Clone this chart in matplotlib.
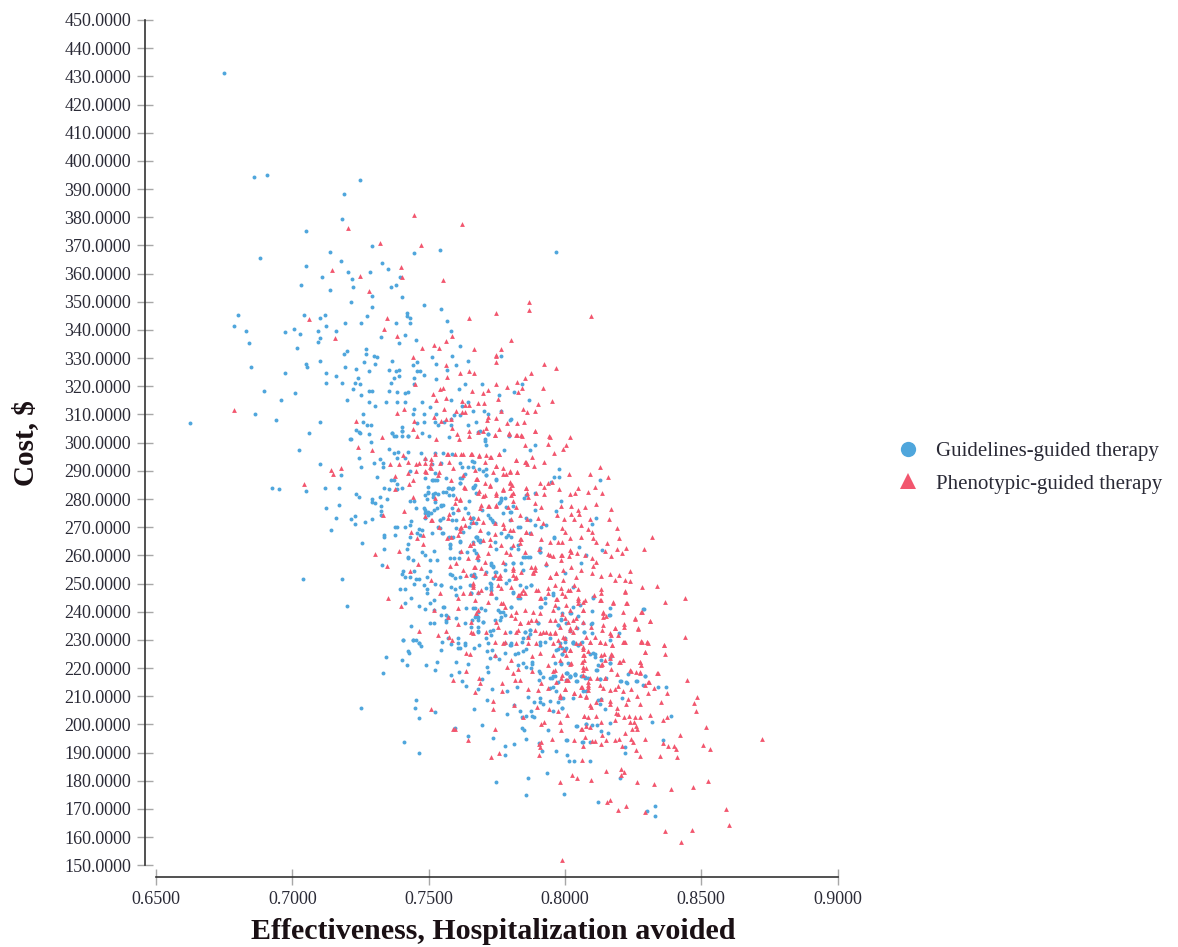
import numpy as np
import matplotlib
matplotlib.use('Agg')
import matplotlib.pyplot as plt
from matplotlib.lines import Line2D

# Datos: (effectiveness, cost)
guidelines_points = [
(.6750,431.3),(.6860,394.3),(.6906,395.1),(.7247,393.3),(.7188,388.3),(.7183,379.3),(.7050,375),(.6882,365.5),(.7137,367.6),(.7177,364.3),
(.7050,362.7),(.7108,358.7),(.7033,355.9),(.7137,354.3),(.7205,360.5),(.7218,358.2),(.7222,355.3),(.7293,369.9),(.7328,363.8),(.7286,360.5),
(.7350,361.5),(.7293,352),(.7362,355.3),(.7379,355.9),(.7396,358.7),(.7402,351.6),(.7447,367.2),(.7540,368.3),(.7968,367.6),
(.7217,349.8),(.7293,348.2),(.7482,348.7),(.7546,347.5),(.7419,345.9),(.7419,344.9),(.7430,344.2),(.7275,344.8),(.6802,345.4),(.7044,345.4),
(.7120,345.4),(.7102,344.2),(.7569,343),(.7430,342.6),(.7379,342.6),(.7252,342.6),(.7194,342.6),(.7124,341.4),(.6785,341.4),(.6831,339.7),
(.7005,340.3),(.6975,339.3),(.7027,338.7),(.7096,339.7),(.7160,339.7),(.7327,337.6),(.7413,338.1),(.7102,337),(.7096,335.8),(.6842,335.2),
(.7391,335.2),(.7454,336.4),(.7016,333.6),(.7269,333.1),(.7269,331.4),(.7200,332.5),(.7188,331.4),(.7298,330.8),(.7310,330.3),(.7511,330.3),
(.7366,329.1),(.7102,329.1),(.7264,328.6),(.7304,328),(.7049,328),(.7055,326.9),(.6848,326.9),(.7194,326.9),(.7442,327.4),(.7459,328.6),
(.7528,328),(.7235,326.3),(.7281,325.3),(.7355,325.8),(.7379,325.3),(.7391,325.8),(.7459,325.3),(.7470,325.3),(.7569,325.8),(.6975,324.7),
(.7124,324.7),(.7160,323.6),(.7241,322.9),(.7391,323.6),(.7372,322.9),(.7447,322.9),(.7482,324.1),(.7528,322.5),(.7124,321.3),(.7183,321.3),
(.7230,321.3),(.7247,320.8),(.7361,321.3),(.7447,320.8),(.7222,319.1),(.6895,318.5),(.7281,318.5),(.7293,318.5),(.7355,318.5),(.7385,318),
(.7413,317.5),(.7425,318),(.7010,317.5),(.7252,316.9),(.6958,315.1),(.7200,315.1),(.7281,314.6),(.7344,314.6),(.7385,314.6),(.7413,314.6),
(.7476,314.6),(.7304,313),(.7506,312.8),(.7447,311.8),(.7258,310.2),(.6865,310.2),(.7442,310.2),(.7482,310.2),(.7528,310.2),(.6941,308),
(.6623,306.8),(.7102,307.3),(.7258,307.3),(.7275,306.2),(.7287,306.2),(.7482,307.3),(.7523,307.3),(.7458,306.8),(.7535,306.2),(.7557,307.3),
(.7402,305.7),(.7402,304),(.7235,304.6),(.7247,303.5),(.7061,303.5),(.7366,303.5),(.7379,302.3),(.7425,302.3),(.7476,303.5),(.7217,301.4),
(.7500,302.3),(.7581,339.7),(.7616,334.2),(.7587,330.8),(.7644,329.1),(.7599,327.4),(.7765,330.8),(.7633,320.8),(.7697,320.8),(.7610,319.1),
(.7841,320.8),(.7812,318),(.7760,316.9),(.7869,315.1),(.7584,315.1),(.7643,314.4),(.7621,313),(.7663,311.3),(.7702,311.3),(.7616,309.7),
(.7592,309.7),(.7581,308.5),(.7765,311.3),(.7719,310.2),(.7674,307.3),(.7644,306.2),(.7581,306.2),(.7804,308.5),(.7797,308),(.7719,302.9),
(.7795,302.3),(.7690,304),(.7575,301.9),(.7707,301.3),
(.7026,297.4),(.7102,292.4),(.6924,284),(.6952,283.4),(.7050,282.9),(.7119,284),(.7171,284),(.7177,288.5),(.7234,281.9),(.7246,280.7),
(.7171,277.8),(.7124,276.7),(.7160,273.4),(.7141,269),(.7217,272.8),(.7229,274),(.7229,271.1),(.7268,271.7),(.7293,272.8),(.7257,264.5),
(.7293,280.1),(.7293,279),(.7304,278.5),(.7321,280.7),(.7326,277.4),(.7327,275.8),(.7327,274.5),(.7349,280.1),(.7338,284),(.7355,283.4),
(.7384,283.4),(.7403,284),(.7384,285.2),(.7361,286.8),(.7372,286.8),(.7310,287.9),(.7246,294.6),(.7251,291.3),(.7298,292.9),(.7321,294.1),
(.7332,292.9),(.7332,291.3),(.7287,300.1),(.7212,301.2),(.7281,303),(.7246,303.7),(.7355,297.9),(.7372,296.2),(.7389,296.8),(.7425,296.8),
(.7384,294.6),(.7413,294.6),(.7366,303.6),(.7372,302.4),(.7402,302.4),(.7402,304.1),(.7425,302.4),(.7377,270.1),(.7384,270.1),(.7413,270.1),
(.7430,270.8),(.7436,272.3),(.7338,267.2),(.7338,266.6),(.7378,267.2),(.7430,266.6),(.7465,269.5),(.7476,269),(.7459,267.8),(.7470,267.2),
(.7425,263.9),(.7338,262.3),(.7419,262.3),(.7425,259.5),(.7425,259),(.7442,258.4),(.7476,261.2),(.7505,258.4),(.7518,261.7),(.7488,260.1),
(.7529,258.4),(.7329,256.7),(.7406,254.5),(.7402,253.3),(.7413,252.2),(.7430,252.2),(.7447,254.5),(.7505,254.5),(.7453,251.6),(.7465,251.6),
(.7493,252.2),(.7447,250),(.7395,248.2),(.7413,248.2),(.7482,249.4),(.7493,248.2),(.7522,250),(.7546,249.4),(.7494,246.5),(.7436,244.9),
(.7413,243.2),(.7465,242.2),(.7505,243.2),(.7518,244.3),(.7488,241),(.7518,240.5),(.7552,241.8),(.7558,241.8),(.7546,238.8),(.7504,236),
(.7518,236),(.7563,236.2),(.7436,234.8),(.7563,237),(.7564,238.8),(.7406,229.9),(.7441,229.9),(.7453,229.9),(.7465,228.8),(.7608,230.6),
(.7039,251.6),(.7183,251.6),(.7200,242.2),(.7471,296.2),(.7488,294.1),(.7523,296.2),(.7552,296.2),(.7512,292.4),(.7546,292.9),(.7586,296),
(.7617,292.9),(.7523,289.1),(.7431,290.1),(.7487,287.3),(.7516,286.8),(.7529,286.8),(.7563,287.3),(.7615,287.3),(.7615,285.6),(.7645,291.5),
(.7661,293.6),(.7666,284.4),(.7499,284.4),(.7499,282.6),(.7575,284),(.7587,283.4),(.7516,281.8),(.7535,281.8),(.7552,282.6),(.7431,279.4),
(.7447,279.4),(.7493,280.1),(.7524,279),(.7575,281.4),(.7650,279.4),(.7675,282),(.7453,276.7),(.7482,276.7),(.7546,277.4),(.7552,277.9),
(.7518,276.1),(.7488,274.9),(.7499,275.4),(.7510,275.2),(.7587,276.7),(.7609,276.1),(.7645,274.9),(.7587,272.6),(.7657,272.8),(.7541,272.6),
(.7535,270),(.7549,267.8),(.7575,266.6),(.7590,266.4),(.7626,268.4),(.7648,270),(.7673,266.6),(.7681,265.5),(.7580,264),(.7580,262.5),
(.7614,264.9),(.7617,261.3),(.7663,264.9),(.7667,261.9),(.7578,259),(.7592,259),(.7641,261.2),(.7612,259),(.7587,253),(.7580,253.4),
(.7614,252.4),(.7597,252.1),(.7657,253),(.7667,253.4),(.7547,249.5),(.7584,248.9),(.7614,248.9),(.7653,249.5),(.7598,248),(.7681,246.5),
(.7602,245.9),(.7636,241.2),(.7681,240),(.7659,237.1),(.7678,238.5),(.7571,238.2),(.7602,237.9),(.7634,235.9),(.7681,234.7),(.7571,230.6),
(.7632,228.8),(.7608,227),
(.7682,303.9),(.7718,303),(.7795,302.6),(.7892,299.2),(.7871,297.4),(.7777,297.4),(.7707,300.7),(.7710,299.2),(.7667,293.3),(.7685,290.5),
(.7700,290.1),(.7712,290.5),(.7712,288.5),(.7749,286.8),(.7663,284.4),(.7979,290.8),(.7960,287.9),(.7977,287.9),(.8128,286.8),(.7950,286.2),
(.7889,282),(.7850,280.2),(.7859,281.4),(.7985,279.4),(.7969,275.8),(.7767,279.7),(.7779,280.2),(.7759,278.7),(.7810,277.5),(.7798,275.5),
(.7773,275.2),(.7889,276.1),(.7696,276.1),(.7663,273.2),(.7657,271.4),(.7675,271.4),(.7724,273.2),(.7737,272),(.7718,274.3),(.7871,272.6),
(.7828,270),(.7892,270.8),(.7914,270),(.7932,270.8),(.8115,273.2),(.8099,271),(.7718,267.8),(.7785,266.6),(.7801,266.6),(.7871,267.8),
(.7960,266.6),(.7960,266),(.7675,266.6),(.7688,265.5),(.7828,263.7),(.7828,262.3),(.7804,262.5),(.7749,262.1),(.7908,262.5),(.8052,263.1),
(.8137,261.9),(.7675,260.7),(.7730,256.6),(.7737,256.2),(.7847,259.5),(.7865,259.5),(.7840,257.4),(.7908,261.3),(.8079,260.1),(.8060,257.2),
(.8000,253.9),(.7932,256.6),(.7779,254.8),(.7743,254.2),(.7712,254.2),(.7669,252.4),(.7737,251.9),(.7810,257.2),(.7847,254.8),(.7724,250.1),
(.7785,250.1),(.7877,249.5),(.7859,248.9),(.7657,246.5),(.7730,247.7),(.7810,246.5),(.7956,245.9),(.7926,243),(.7828,244.8),(.7749,244.8),
(.8103,244.8),(.8030,248.9),(.7914,241.8),(.7804,241.8),(.7761,240),(.7706,240.6),(.7669,241.2),(.7682,238.3),(.7767,238.3),(.7743,237.1),
(.7700,236.5),(.8164,238.8),(.8287,241),(.8097,235.6),(.7987,237.1),(.7902,235.9),(.7871,233.5),(.7798,232.9),(.7724,233.3),(.7682,233.3),
(.7926,229.4),(.7981,228.8),(.8069,232.9),(.8164,229.9),(.8030,228.8),(.7712,230.6),(.7798,228.2),(.7853,232.9),(.7871,232.1),
(.7345,223.8),(.7402,222.7),(.7426,226.1),(.7429,225.5),(.7419,221.1),(.7333,218.3),(.7489,221.1),(.7529,222.1),(.7523,219.4),(.7407,229.8),
(.7444,230),(.7471,227.9),(.7465,228.8),(.7546,226.5),(.7548,229.4),(.7581,228.6),(.7609,228.8),(.7633,228.2),(.7617,227),(.7667,227),
(.7685,228.2),(.7719,228.8),(.7714,226.1),(.7731,226.5),(.7725,223.5),(.7759,223.1),(.7743,224.3),(.7779,225.5),(.7599,222.1),(.7644,221.5),
(.7714,220.3),(.7719,218.6),(.7610,218.6),(.7582,217.7),(.7621,215.4),(.7639,213.8),(.7697,216),(.7680,212.6),(.7731,212.6),(.7788,212),
(.7714,208.8),(.7667,205.4),(.7455,208.8),(.7449,206),(.7523,204.3),(.7466,202.1),(.7253,206),(.7813,206.9),(.7788,203.7),(.7835,204.9),
(.7875,204.9),(.7841,202.6),(.7859,203),(.7878,203),(.7887,202.6),(.7887,207.8),(.7908,209.3),(.7920,207.3),(.7908,207.8),(.7945,208.4),
(.7975,207.8),(.7990,206),(.7956,204.9),(.7969,211.7),(.7982,209.3),(.7994,209.3),(.8030,209.3),(.7863,209.9),(.7825,213.2),(.7945,212.8),
(.7957,213.4),(.7975,215.2),(.7906,215.6),(.7945,216.4),(.7921,216.8),(.7963,217.2),(.7906,218.8),(.7908,218.2),(.8006,218.2),(.8018,217),
(.8036,217.8),(.8043,215.4),(.8085,216.4),(.7859,220.5),(.7874,219.9),(.7881,222.3),(.7880,221.5),(.7829,221.1),(.7847,221.7),(.7817,225),
(.7829,225.3),(.7845,226.2),(.7859,226.7),(.7804,228.2),(.7841,229.4),(.7908,229.4),(.7908,228.2),(.7969,226.5),(.7988,227),(.8031,228.8),
(.8061,229.4),(.7597,198.6),(.7697,199.8),(.7644,195.9),(.7736,195.3),(.7782,192.5),(.7812,193.2),(.7782,189.2),(.7841,198.6),(.7851,198.1),
(.7858,194.9),(.7939,198.1),(.8043,199.5),(.8079,200.2),(.7906,193.3),(.7916,190.4),(.7968,190.4),(.8006,194.5),(.8007,189.2),(.8014,187.1),
(.8032,187.1),(.8067,193.7),(.7408,193.7),(.7466,189.8),(.7748,179.7),(.7863,180.9),(.7858,174.8),(.7933,182.6),(.7996,175.2),
(.7999,229.1),(.8030,229.1),(.8048,228.2),(.8005,227),(.7991,225),(.8091,225),(.8109,225),(.8134,222.9),(.8164,221.7),(.8122,221.1),
(.7985,221.5),(.8115,219.4),(.8005,218.2),(.8018,217.2),(.8036,217.8),(.8060,217.2),(.8073,216.6),(.8042,215.4),(.8130,216),(.8150,216.6),
(.8205,215.4),(.8225,215),(.8232,217.8),(.8262,215.4),(.8295,217.2),(.8341,213.2),(.8371,213.2),(.8067,211.7),(.8079,211.7),(.7987,209.3),
(.8134,208.9),(.8122,208.5),(.8210,209.3),(.8130,207.2),(.8146,205.4),(.7990,206),(.8164,200.4),(.8042,199.5),(.8100,199.8),(.8118,199.8),
(.8076,200.2),(.8318,201),(.8388,203.1),(.8134,197.6),(.8157,197),(.8005,194.3),(.8064,193.6),(.8093,193.7),(.8219,192),(.8221,189.8),
(.8359,194.3),(.8093,187.1),(.8203,180.9),(.8123,172.5),(.8301,169.1),(.8329,170.9),(.8329,167.4),
]

# Segunda lectura de la zona densa
guidelines_center = [
(.7523,286.8),(.7511,286.8),(.7621,291.5),(.7633,288.9),(.7615,285.6),(.7572,284),(.7590,284),(.7499,282.3),(.7486,281.4),(.7517,280.8),
(.7523,282),(.7563,282.6),(.7590,281.4),(.7621,287.3),(.7664,283.8),(.7670,285),(.7664,291.5),(.7712,288.5),(.7747,287),(.7761,279.1),
(.7767,280.2),(.7783,277),(.7804,275.5),(.7547,277.9),(.7529,276.7),(.7486,276.1),(.7499,274.3),(.7486,273.1),(.7554,273.1),(.7541,272.6),
(.7590,274.9),(.7633,276.7),(.7602,272.6),(.7664,273.1),(.7731,272.6),(.7743,271.4),(.7798,272.6),(.7859,273.1),(.7511,267.8),(.7541,269.6),
(.7554,267.8),(.7602,269.6),(.7676,266.6),(.7688,264.9),(.7718,267.8),(.7767,267.8),(.7615,265.2),(.7835,270.2),(.7743,264.9),(.7578,263.7),
(.7792,267.2),
(.7682,258.4),(.7730,257.2),(.7737,256),(.7749,254.2),(.7779,256.9),(.7810,257.2),(.7853,259.5),(.7871,259.3),(.7908,261.3),(.7794,251.2),
(.7730,250),(.7712,248.3),(.7730,248.9),(.7834,249.5),(.7877,249.5),(.7810,247.1),(.7834,244.7),(.7957,246.5),(.7908,241.8),(.7926,244.7),
(.7663,241.2),(.7694,241.2),(.7755,240.6),(.7773,240),(.7804,241.8),(.7669,238.2),(.7682,237),(.7779,238.8),(.7700,236.5),(.7657,234.7),
(.7761,237),(.7902,235.9),(.7853,232.9),(.7871,233.5),(.7865,231.1),(.7682,232.9),(.7737,233.5),(.7730,231.7),(.7804,228.8),(.7779,228.8),
(.7847,230.6),(.7944,230.6),(.7975,235.3),(.8018,239.4),(.8054,242.4),(.7975,241.2),(.7669,252.4),(.7657,246.5),
(.8104,245.1),(.8165,241.2),(.8163,238.8),(.8291,241),(.8098,240.4),(.8031,241.8),(.8024,239.4),(.8049,238.5),(.7988,239.4),(.7985,237.3),
(.8004,235.9),(.7976,235.3),(.8065,236.1),(.8100,235.9),(.8043,234.1),(.8018,233.3),(.8071,232.9),(.8100,232.3),(.8198,232.6),(.8000,230.5),
(.8031,229.4),(.8049,228.2),(.7976,226.6),(.8000,226.4),(.7991,225),(.8104,225.2),(.8110,224),(.8165,223.4),(.8165,221.7),(.7962,221.7),
(.7985,221.7),(.8012,221.9),(.8116,219.3),(.8006,218.1),(.8037,217.5),(.8018,217.2),(.8061,217.2),(.8073,216.7),(.7957,217.2),(.7951,216.4),
(.8128,216),(.8263,215.5),(.8226,214.8),(.8202,215.5),(.8293,217.2),(.8287,214),(.8004,215.8),
]

phenotypic_points = [
(.7447,380.7),(.7203,376.2),(.7321,370.9),(.7472,370.2),(.7145,361.2),(.7249,359),(.7397,362.4),(.7404,358.7),(.7554,357.8),(.7280,353.8),
(.7349,344.2),(.7063,344),(.7335,340.4),(.7156,337.1),(.7383,337.8),(.7562,336.2),(.7475,333.6),(.7520,334.5),(.7537,333.6),(.7441,330.3),
(.7562,327.4),(.7568,323.2),(.7451,320.8),(.7553,319.3),(.7541,318.9),(.7517,317.3),(.7527,315.3),(.7563,315.9),(.7410,312),(.7557,311.9),
(.6787,311.6),(.7383,310.4),(.7519,309.2),(.7232,307.8),(.7446,307.8),(.7547,307.8),(.7562,308.3),(.7443,304.7),(.7329,302.1),(.7458,302.3),
(.7527,301.4),(.7624,377.5),(.7648,344.1),(.7749,345.9),(.7867,349.9),(.7870,347.2),(.8094,344.9),(.7586,337.8),(.7802,336.3),(.7668,333.3),
(.7766,333.1),(.7749,331.2),(.7746,330.8),(.7748,328.7),(.7925,327.9),(.7969,326.4),(.7648,325.3),(.7666,324.8),(.7615,324.7),(.7874,324.6),
(.7853,322.8),(.7825,321.4),(.7746,320.9),(.7788,319.6),(.7920,319.4),(.7842,319.3),(.7829,318.1),(.7718,318.8),(.7658,318.3),(.7698,317.5),
(.7753,315.4),(.7953,314.8),(.7903,313.7),(.7621,314.8),(.7682,313.9),(.7704,313.9),(.7635,313.3),(.7648,313.5),(.7846,311.9),(.7861,310.9),
(.7891,311.3),(.7766,311.3),(.7599,311.3),(.7624,310.9),(.7632,310.9),(.7719,309.2),(.7749,308.6),(.7584,308.3),(.7713,308),(.7850,307.2),
(.7825,306.8),(.7788,306.8),(.7586,305.2),(.7757,304.7),(.7891,304),(.7709,305.2),(.7701,304.2),(.7683,303.8),(.7648,304.3),(.7648,302.3),
(.7605,302.9),(.7744,302.6),(.7795,303.3),(.7823,302.8),(.7841,302.5),(.7944,302.1),(.8019,301.9),(.7613,301.4),
(.7241,298.6),(.7293,297.4),(.7180,290.9),(.7143,290.3),(.7151,288.9),(.7044,285.2),(.7359,292.3),(.7393,292.6),(.7406,295.6),(.7425,293),
(.7452,292.6),(.7466,292.9),(.7486,292.7),(.7510,294.1),(.7509,292.9),(.7569,296),(.7620,296),(.7655,296),(.7574,293),(.7510,290.9),
(.7455,289.8),(.7425,289.4),(.7488,289.8),(.7538,289.5),(.7378,288.2),(.7582,286.8),(.7627,288.5),(.7679,287),(.7376,283.4),(.7427,285.2),
(.7444,286.8),(.7630,284.2),(.7444,280.6),(.7524,280.2),(.7602,280.2),(.7614,279.7),(.7685,283),(.7410,275.6),(.7488,274),(.7510,272.6),
(.7331,274.5),(.7437,268.4),(.7459,266.1),(.7480,264),(.7538,270.1),(.7575,274.7),(.7608,276.3),(.7618,270.2),(.7614,268.7),(.7651,273.5),
(.7681,273.2),(.7584,266.6),(.7651,263.7),(.7620,261.7),(.7678,259.5),(.7304,260.4),(.7393,261.4),(.7349,256.1),(.7461,256.9),(.7431,254.5),
(.7602,257.2),(.7645,259),(.7580,256.2),(.7626,254.8),(.7667,256),(.7509,251.2),(.7541,246.5),(.7639,253),(.7663,250.1),(.7626,246.5),
(.7651,246.5),(.7608,244.8),(.7351,245),(.7400,242.2),(.7520,240.6),(.7571,238.2),(.7608,241.2),(.7681,240.6),(.7609,235.6),(.7657,232.9),
(.7465,233),(.7535,231.6),(.7563,233),(.7575,230.9),(.7587,230),
(.7943,302.4),(.7891,304.1),(.7840,302.6),(.7822,302.8),(.7795,303.1),(.7745,302.6),(.7939,299.5),(.8003,299.2),(.7855,299.2),(.7993,297.6),
(.7960,296.2),(.7757,296),(.7710,295.6),(.7685,295.6),(.7660,296),(.7729,294.8),(.7707,293.3),(.7822,293.9),(.7881,294.8),(.7853,293.3),
(.7861,292.4),(.7924,293),(.7887,291.7),(.8128,291.3),(.7749,291.8),(.7773,290.9),(.7826,289.7),(.7800,290.1),(.7783,288.9),(.7738,289.7),
(.8015,288.8),(.8093,288.9),(.8159,287.7),(.7675,287),(.7708,285.6),(.7727,284.6),(.7798,286.2),(.7807,285),(.7859,284),(.7910,285.6),
(.7922,284.2),(.7938,285.6),(.7954,286.2),(.7977,283.6),(.8048,283.9),(.8111,284.2),(.8086,282.5),(.8137,282.1),(.8036,282.3),(.8020,281.7),
(.7773,283.2),(.7810,282),(.7746,281.4),(.7700,281.1),(.7861,282),(.7893,282.3),(.7922,281.8),(.7810,279.4),(.7891,278.7),(.7987,277.5),
(.8021,277.5),(.8073,277.3),(.8115,278.1),(.8168,276.5),(.8048,276.1),(.7914,277),(.7822,277),(.7749,277.5),(.7722,277.5),(.7694,277.9),
(.7792,277),(.8021,274.6),(.8052,274.6),(.7997,273),(.8034,272.9),(.8091,273),(.8161,272.9),(.7971,274.3),(.7861,272.8),(.7834,274.3),
(.7804,272.8),(.7773,271),(.7743,271.4),(.7901,273.2),(.7920,271.6),(.8060,270.8),(.8085,269.2),(.8192,269.8),(.7991,269.6),(.8000,268.4),
(.8058,266.6),(.8197,266.3),(.8318,266.4),(.8099,268.4),(.8103,266.3),(.8115,264.9),(.8018,266),(.7991,264.9),(.7975,264.9),(.7944,264.9),
(.7914,265.7),(.7877,268),(.7859,268.4),(.7840,265.7),(.7834,264.3),(.7810,269),(.7777,269.6),(.7743,267.6),(.7688,269),(.7700,265.5),
(.7663,264.3),(.7724,263.7),(.7767,263.7),(.7785,261.3),(.7810,263.7),(.7905,262.1),(.7938,260.5),(.7956,259.8),(.7991,260.1),(.8018,261.9),
(.8044,260.7),(.8073,260.1),(.8101,259),(.8115,257.8),(.8154,264.3),(.8146,261.7),(.8170,259.8),(.8192,262.3),(.8209,260.7),(.8225,262.5),
(.8290,262.4),(.8014,259.8),(.7987,258.4),(.7932,257.2),(.7889,256),(.7883,254.2),(.7810,254.8),(.7820,252.4),(.7773,257.8),(.7706,257.8),
(.7669,256),(.7743,253),(.7761,251.9),(.7694,255.4),(.8024,255.8),(.7969,253.6),(.7944,252.4),(.8103,256.2),(.8131,252.8),(.8099,253.9),
(.8060,254.8),(.8042,252.4),(.7993,251.3),(.8164,253.3),(.8183,251.3),(.8197,252.9),(.8222,251.3),(.8240,251),(.8238,254.5),(.8284,248.9),
(.8339,249.3),(.8439,244.8),(.8366,243.5),(.8219,247.5),(.8225,243.2),(.8176,243.2),(.8131,247.9),(.8128,244.2),(.8106,245.9),(.8073,244.2),
(.8048,247.9),(.8032,249.5),(.8012,247.7),(.8000,245.4),(.7972,244.4),(.7938,246.5),(.7895,247.7),(.7840,246.5),(.7832,245.9),(.7804,248.9),
(.7755,249.5),(.7730,246.5),(.7694,247.7),(.7663,248.9),(.7773,243),(.7914,244.8),(.7718,243.6),(.8048,243),(.8067,240.6),(.8018,240.6),
(.7991,239.2),(.7956,240.6),(.7908,239.4),(.7877,237.1),(.7834,236.1),(.7804,238.8),(.7779,241.8),(.7749,236.5),(.7675,239.7),(.7657,236.5),
(.8140,240),(.8152,238.5),(.8213,240),(.8280,240),(.8311,236.7),(.8256,237.4),(.8268,233.9),(.8216,235.6),(.8216,234.5),(.8183,234.1),
(.8195,231.7),(.8136,233.5),(.8097,234.7),(.8067,236.5),(.8042,234.7),(.8012,236.5),(.7981,234.7),(.7944,232.3),(.7920,232.9),(.7889,233.5),
(.7865,231.2),(.7822,232.9),(.7779,229.4),(.7743,229.4),(.8030,232.9),(.7993,231.2),(.8079,231.2),(.8109,231.2),(.8170,231.7),(.8280,229.7),
(.8302,229.1),(.8216,229.4),(.8439,231.2),(.8363,228.1),(.8146,228.8),(.8054,228.8),(.7956,228.8),(.7895,228.8),
(.7639,225.3),(.7652,225),(.7639,218.8),(.7590,215.6),(.7686,216.6),(.7688,214.6),(.7670,211.4),(.7736,208.2),(.7737,205.4),(.7507,205.5),
(.7597,198.4),(.7588,198.3),(.7743,198.3),(.7643,194.3),(.7730,188.5),(.7759,189.8),(.7814,206.8),(.7770,214.6),(.7771,211.9),(.7817,215.8),
(.7837,215.6),(.7786,220.5),(.7810,218.4),(.7804,222.9),(.7829,219.6),(.7743,224.7),(.7774,228.8),(.7878,224.3),(.7880,219.1),(.7908,225.3),
(.7939,221.1),(.7957,218.8),(.7982,222.9),(.8018,221.5),(.7865,212.5),(.7900,212.3),(.7914,214.6),(.7939,212.8),(.8006,215.8),(.7999,212.5),
(.7982,210.5),(.8034,211.1),(.8061,213.4),(.8085,212.3),(.8079,209.9),(.7896,206.3),(.7942,205.4),(.7973,204.6),(.8008,203.4),(.8071,203.1),
(.7847,202.6),(.7924,200.7),(.7914,200.1),(.7982,200.8),(.7985,198.1),(.8063,198.3),(.8079,199.5),(.8073,195.5),(.7911,193.9),(.7952,194.9),
(.8033,194.3),(.7906,193.1),(.7908,191.9),(.8068,192.4),(.7906,189.2),(.8063,187.2),(.7982,179.4),(.8027,181.9),(.8043,181.1),(.7990,152),
(.8173,228.3),(.8213,229.4),(.8280,229.4),(.8301,229.1),(.8363,228.2),(.8368,225),(.8294,225.6),(.8274,222.3),(.8280,221.1),(.8213,222.9),
(.8197,222.1),(.8170,225),(.8167,223.5),(.8144,225),(.8146,222.9),(.8128,229.1),(.8093,229.4),(.8067,226.7),(.8069,224.7),(.8069,222.9),
(.8067,220.5),(.8085,225.9),(.8018,226.5),(.7996,226.5),(.8005,224.7),(.8021,221.7),(.8136,221.5),(.8170,219.6),(.8192,217.8),(.8241,218.8),
(.8262,218.5),(.8274,218.4),(.8339,218.2),(.8447,215.6),(.8118,216.4),(.8085,215.2),(.8067,217.6),(.8005,215.6),(.7987,216.4),(.8146,216.4),
(.8128,214),(.8085,213.4),(.8058,213.4),(.7999,212.5),(.8140,212.8),(.8183,212.5),(.8164,212.3),(.8195,213.7),(.8213,212),(.8241,212.5),
(.8293,214),(.8309,215.2),(.8327,212.8),(.8305,211.3),(.8375,211.1),(.8486,209.7),(.8474,207.5),(.8482,204.9),(.8351,207.8),(.8277,207.3),
(.8266,210.1),(.8232,208.9),(.8225,207.2),(.8164,208.4),(.8164,207.3),(.8134,208.9),(.8115,208.1),(.8091,206.9),(.8097,206.1),(.8034,211.1),
(.8054,210.5),(.8079,210.1),(.7983,209.9),(.8192,205.7),(.8189,204.2),(.8195,203.7),(.8217,202.8),(.8235,203),(.8258,202.8),(.8277,202.7),
(.8311,203.5),(.8375,202.8),(.8360,201.6),(.8238,200.8),(.8255,201),(.8183,201.6),(.8131,201),(.8113,203),(.8085,202.8),(.8069,203.1),
(.8091,199),(.8060,198.4),(.8260,199.5),(.8246,198.3),(.8265,198.3),(.8222,196.9),(.8516,199),(.8421,196.4),(.8294,195),(.8724,194.7),
(.8506,192.6),(.8532,191.2),(.8400,192.4),(.8406,191.4),(.8377,192.4),(.8359,193.3),(.8274,188.8),(.8261,191),(.8250,193.8),(.8244,194.7),
(.8208,192.4),(.8199,194.7),(.8183,194.5),(.8152,194.5),(.8137,196.2),(.8134,192.9),(.8111,194),(.8101,194),(.8349,188.8),(.8411,188.4),
(.8150,183.5),(.8205,184.3),(.8216,183.2),(.8207,182.1),(.8095,180.1),(.8263,179.5),(.8326,178.9),(.8388,177.2),(.8469,177.7),(.8524,179.8),
(.8164,173.3),(.8156,172.5),(.8196,169.8),(.8225,170.9),(.8295,168.8),(.8592,170.1),(.8601,164.3),(.8367,162.1),(.8467,162.6),(.8427,158.2),
]

phenotypic_center = [
(.7486,294.4),(.7523,296),(.7572,296),(.7596,296),(.7627,296),(.7657,296),(.7686,295.3),(.7725,294.8),(.7759,296),(.7822,293.9),
(.7859,293.3),(.7505,291.5),(.7541,292.7),(.7590,290.9),(.7670,290.3),(.7749,291.7),(.7798,289.7),(.7825,289.7),(.7774,288.9),(.7676,287),
(.7633,283.8),(.7725,285),(.7682,282),(.7706,281.4),(.7749,282),(.7774,283.4),(.7798,285.6),(.7798,283.8),(.7810,282),(.7859,283.8),
(.7865,280.8),(.7596,278.5),(.7615,279.9),(.7688,276.7),(.7719,277.5),(.7749,277.9),(.7804,281.4),(.7511,272.6),(.7572,273.1),(.7627,273.1),
(.7700,272),(.7615,269.6),(.7633,270.8),(.7664,272),(.7798,269),(.7835,265.7),(.7725,265.7),(.7651,263.7),(.7609,267.2),(.7480,267.2),
(.7566,266),(.7859,268.4),(.7492,289.7),(.7535,288.5),
(.7682,260.1),(.7718,260.7),(.7798,260.5),(.7853,261.3),(.7944,260.1),(.7987,260.1),(.8024,261.3),(.7663,253),(.7706,253.6),(.7761,253),
(.7755,251.8),(.7810,255.4),(.7810,253),(.7816,251.8),(.7877,256),(.7889,254.8),(.7883,253.6),(.7840,254.2),(.7944,252.4),(.7969,253.6),
(.7993,254.8),(.7663,249.5),(.7682,247.1),(.7730,247.1),(.7767,248.3),(.7847,247.7),(.7853,246.5),(.7828,245.9),(.7908,244.7),(.7902,247.7),
(.7938,248.3),(.7963,249.5),(.7987,248.3),(.8018,247.7),(.8048,244.7),(.7669,244.2),(.7767,243),(.7822,240),(.7853,240.6),(.7883,240),
(.7963,242.4),(.8005,242.4),(.7816,237.6),(.7834,235.9),(.7865,236.5),(.7895,237),(.7944,237),(.7999,237.6),(.8042,237.6),(.7755,234.7),
(.7712,232.9),(.7779,232.9),(.7828,233.5),(.7908,232.3),(.7932,232.9),(.7963,232.9),(.8018,234.1),(.7663,232.3),(.7865,228.8),(.7822,228.8),
(.7999,230.6),(.8042,228.8),(.7981,228.2),
(.7988,246.5),(.7969,244.4),(.8049,244.2),(.8067,243.6),(.8134,246.5),(.8134,244.2),(.8177,243.6),(.8226,243),(.8220,247.1),(.8281,240),
(.8312,236.8),(.8257,237.6),(.8269,234.1),(.8183,234.1),(.8220,229.4),(.8171,228.2),(.8141,239.4),(.8141,238.2),(.8138,235.3),(.8165,232.3),
(.8067,240.6),(.8031,237),(.7963,237),(.7963,232.3),(.8018,233.5),(.7976,230),(.8092,229.4),(.8128,229.4),(.8067,227.6),(.8018,226.4),
(.7957,224.6),(.8067,224.6),(.8061,222.3),(.8134,224.6),(.8171,224.6),(.8202,222.3),(.8275,222.3),(.8293,225.8),(.8281,229.4),(.8305,228.8),
(.8134,221.1),(.8079,219.9),(.7963,219.3),(.7988,217.5),(.8092,216.3),(.8067,219.3),(.8238,219.3),(.8275,218.7),(.8305,215.2),(.8342,218.1),
(.8086,214),(.8147,216.3),(.8012,215.8),(.7969,215.2),
]

x_ticks = [0.65, 0.70, 0.75, 0.80, 0.85, 0.90]
y_ticks = list(range(150, 451, 10))

blue = '#4fa6dc'
red = '#f2566e'
text_col = '#2a2a36'

plt.rcParams['font.family'] = ['Liberation Serif', 'DejaVu Serif']

guide = np.array(guidelines_points + guidelines_center)
pheno = np.array(phenotypic_points + phenotypic_center)

W, H = 1178, 947
fig = plt.figure(figsize=(W / 100, H / 100), dpi=100)
ax = fig.add_axes([156 / W, 1 - 865.3 / H, (837.5 - 156) / W, (865.3 - 20) / H])

ax.scatter(guide[:, 0], guide[:, 1], s=8, marker='o', color=blue, linewidths=0, clip_on=False)
ax.scatter(pheno[:, 0], pheno[:, 1], s=12, marker='^', color=red, linewidths=0, clip_on=False)

ax.set_xlim(0.65, 0.90)
ax.set_ylim(150, 450)
ax.set_xticks(x_ticks)
ax.set_yticks(y_ticks)
ax.set_xticklabels(['%.4f' % v for v in x_ticks])
ax.set_yticklabels(['%.4f' % v for v in y_ticks])

for side in ['top', 'right']:
    ax.spines[side].set_visible(False)
for side, off in [('left', 7.9), ('bottom', 8.4)]:
    ax.spines[side].set_position(('outward', off))
    ax.spines[side].set_color('#333333')
    ax.spines[side].set_linewidth(1.2)

ax.tick_params(axis='both', direction='inout', length=12, width=1, color='#a8a8a8',
               labelsize=13, labelcolor=text_col, pad=4)

ax.set_xlabel('Effectiveness, Hospitalization avoided', fontsize=21.6, fontweight='bold', color='#1a1014')
ax.xaxis.set_label_coords(0.4945, -0.0625)
ax.set_ylabel('Cost, $', fontsize=21, fontweight='bold', color='#1a1014')
ax.yaxis.set_label_coords(-0.172, 0.5)

handles = [
    Line2D([], [], linestyle='none', marker='o', markersize=11, color=blue, markeredgewidth=0),
    Line2D([], [], linestyle='none', marker='^', markersize=12, color=red, markeredgewidth=0),
]
fig.legend(handles, ['Guidelines-guided therapy', 'Phenotypic-guided therapy'],
           loc='center left', bbox_to_anchor=(887 / W, 1 - 467.5 / H), frameon=False,
           fontsize=15, labelcolor=text_col, handletextpad=0.35, labelspacing=0.62,
           borderpad=0, borderaxespad=0)

fig.savefig('out.png', dpi=100)
